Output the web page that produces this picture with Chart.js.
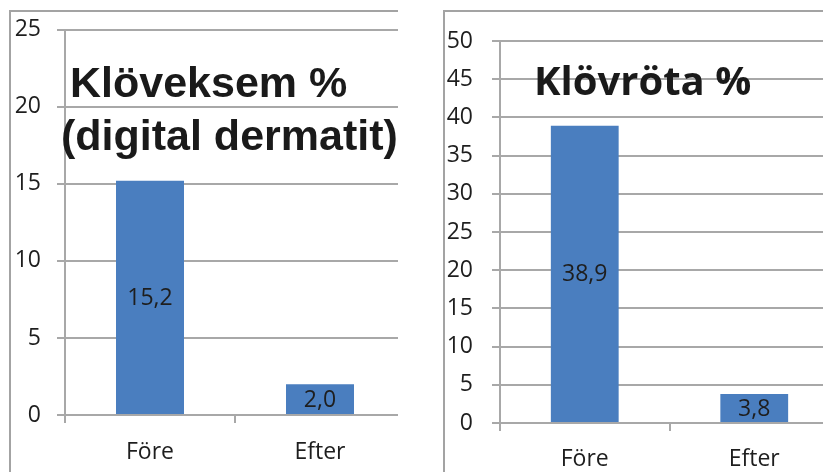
<!DOCTYPE html>
<html><head><meta charset="utf-8">
<script src="https://cdn.jsdelivr.net/npm/chart.js@4"></script>
<style>
html,body{margin:0;padding:0;background:#fff;overflow:hidden;width:823px;height:472px;}
.wrap{position:absolute;top:0;height:472px;overflow:hidden;}
.wrap canvas{position:absolute;left:0;top:0;}
.frame{position:absolute;border-left:2px solid #a3a3a3;border-top:2px solid #a3a3a3;}
</style></head>
<body>
<div class="wrap" style="left:0;width:398px"><canvas id="cL" width="420" height="472"></canvas><div class="frame" style="left:9px;top:10px;width:420px;height:470px"></div></div>
<div class="wrap" style="left:420px;width:403px"><canvas id="cR" width="440" height="472"></canvas><div class="frame" style="left:23px;top:10px;width:420px;height:470px"></div></div>
<script>
const categories = ['Före', 'Efter'];
const eksemValues = [15.2, 2.0];
const rotaValues = [38.9, 3.8];
const eksemAxis = [0, 25, 5];   // min, max, step
const rotaAxis = [0, 50, 5];
const eksemTitle = ['Klöveksem %', '(digital dermatit)'];
const rotaTitle = ['Klövröta %'];

const GRID = '#a8a8a8';
const BAR = '#4a7ebf';
const TXT = '#1e1e1e';

const valueLabels = {
  id: 'valueLabels',
  afterDatasetsDraw(chart) {
    const ctx = chart.ctx, meta = chart.getDatasetMeta(0);
    const o = chart.options.plugins.valueLabels;
    ctx.save();
    ctx.font = o.size + "px 'Open Sans', sans-serif";
    ctx.fillStyle = TXT; ctx.textAlign = 'center'; ctx.textBaseline = 'middle';
    meta.data.forEach((bar, i) => {
      const v = chart.data.datasets[0].data[i];
      ctx.fillText(v.toFixed(1).replace('.', ','), bar.x, (bar.y + bar.base) / 2 + 1);
    });
    ctx.restore();
  }
};
const overTitle = {
  id: 'overTitle',
  afterDraw(chart) {
    const o = chart.options.plugins.overTitle;
    const ctx = chart.ctx;
    ctx.save();
    ctx.font = o.font; ctx.fillStyle = '#1a1a1a'; ctx.textAlign = 'left'; ctx.textBaseline = 'alphabetic';
    o.lines.forEach((t, i) => ctx.fillText(t, o.xs[i], o.ys[i]));
    ctx.restore();
  }
};

function make(id, values, axis, g) {
  return new Chart(document.getElementById(id), {
    type: 'bar',
    data: { labels: categories, datasets: [{ data: values, backgroundColor: BAR, borderWidth: 0,
      categoryPercentage: 1, barPercentage: 0.4 }] },
    options: {
      responsive: false, animation: false,
      layout: { padding: { top: g.top, right: g.right, bottom: 0, left: 0 } },
      scales: {
        x: {
          offset: true,
          grid: { offset: true, drawOnChartArea: false, drawTicks: true, tickLength: 8, color: GRID, lineWidth: 2 },
          border: { display: true, color: GRID, width: 2 },
          ticks: { color: TXT, padding: g.xpad, font: { family: "'Open Sans', sans-serif", size: g.fs } },
          afterFit(s) { s.height = g.xh; }
        },
        y: {
          min: axis[0], max: axis[1],
          grid: { color: GRID, lineWidth: 2, tickLength: 8 },
          border: { display: true, color: GRID, width: 2 },
          ticks: { stepSize: axis[2], color: TXT, padding: g.ypad, font: { family: "'Open Sans', sans-serif", size: g.fs } },
          afterFit(s) { s.width = g.yw; }
        }
      },
      plugins: {
        legend: { display: false }, tooltip: { enabled: false },
        valueLabels: { size: g.fs },
        overTitle: g.title
      }
    },
    plugins: [valueLabels, overTitle]
  });
}

make('cL', eksemValues, eksemAxis, {
  top: 27, right: 15, xh: 57, yw: 65, xpad: 16, ypad: 16, fs: 23,
  title: { lines: eksemTitle, xs: [70, 61], ys: [97, 150], font: "bold 43px 'Liberation Sans', Arial, sans-serif" }
});
make('cR', rotaValues, rotaAxis, {
  top: 41, right: 21, xh: 49, yw: 80, xpad: 15, ypad: 19, fs: 23,
  title: { lines: rotaTitle, xs: [114], ys: [95], font: "bold 40px 'Open Sans', sans-serif" }
});
</script>
</body></html>
